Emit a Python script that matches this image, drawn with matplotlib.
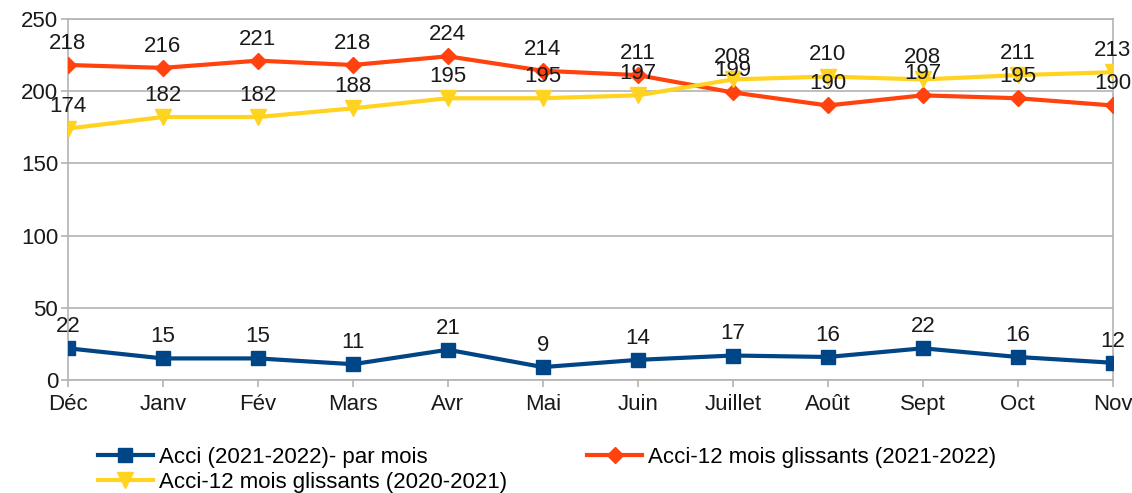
import matplotlib.pyplot as plt

plt.rcParams['font.family'] = ['Liberation Sans', 'DejaVu Sans']

mois = ["Déc", "Janv", "Fév", "Mars", "Avr", "Mai", "Juin", "Juillet", "Août", "Sept", "Oct", "Nov"]
acci_mois = [22, 15, 15, 11, 21, 9, 14, 17, 16, 22, 16, 12]
glissant_2122 = [218, 216, 221, 218, 224, 214, 211, 199, 190, 197, 195, 190]
glissant_2021 = [174, 182, 182, 188, 195, 195, 197, 208, 210, 208, 211, 213]

fig = plt.figure(figsize=(11.32, 4.93), dpi=100)
ax = fig.add_axes([0.060, 0.229, 0.923, 0.733])

x = list(range(len(mois)))
series = [
    (acci_mois, "Acci (2021-2022)- par mois", "#004586", "s", 10),
    (glissant_2122, "Acci-12 mois glissants (2021-2022)", "#ff420e", "D", 8),
    (glissant_2021, "Acci-12 mois glissants (2020-2021)", "#ffd320", "v", 12),
]
lines = []
for vals, lab, col, mk, ms in series:
    ln, = ax.plot(x, vals, color=col, lw=3, marker=mk, markersize=ms, label=lab, zorder=3)
    lines.append(ln)
    for xi, v in zip(x, vals):
        ax.annotate(str(v), (xi, v), xytext=(0, 8), textcoords="offset points",
                    ha="center", va="bottom", fontsize=16, color="#1a1a1a", zorder=4)

ax.set_xlim(0, 11)
ax.set_ylim(0, 250)
ax.set_yticks(range(0, 251, 50))
ax.set_xticks(x)
ax.set_xticklabels(mois)
ax.grid(axis="y", color="#b3b3b3", lw=1.2)
ax.set_axisbelow(True)
for s in ax.spines.values():
    s.set_color("#b3b3b3")
    s.set_linewidth(1.2)
ax.tick_params(axis="both", colors="#b3b3b3", labelcolor="#1a1a1a", labelsize=16, length=5, width=1.2)
ax.tick_params(axis="x", pad=5)
ax.tick_params(axis="y", pad=2)

# ordre ligne par ligne comme la référence
order = [lines[0], lines[2], lines[1]]
ax.legend(order, [l.get_label() for l in order], loc="upper left",
          bbox_to_anchor=(0.02, -0.16), ncol=2, frameon=False,
          fontsize=16, handlelength=2.5, handletextpad=0.25, columnspacing=3.6,
          labelspacing=0.2, borderaxespad=0)

fig.savefig("out.png", dpi=100)
